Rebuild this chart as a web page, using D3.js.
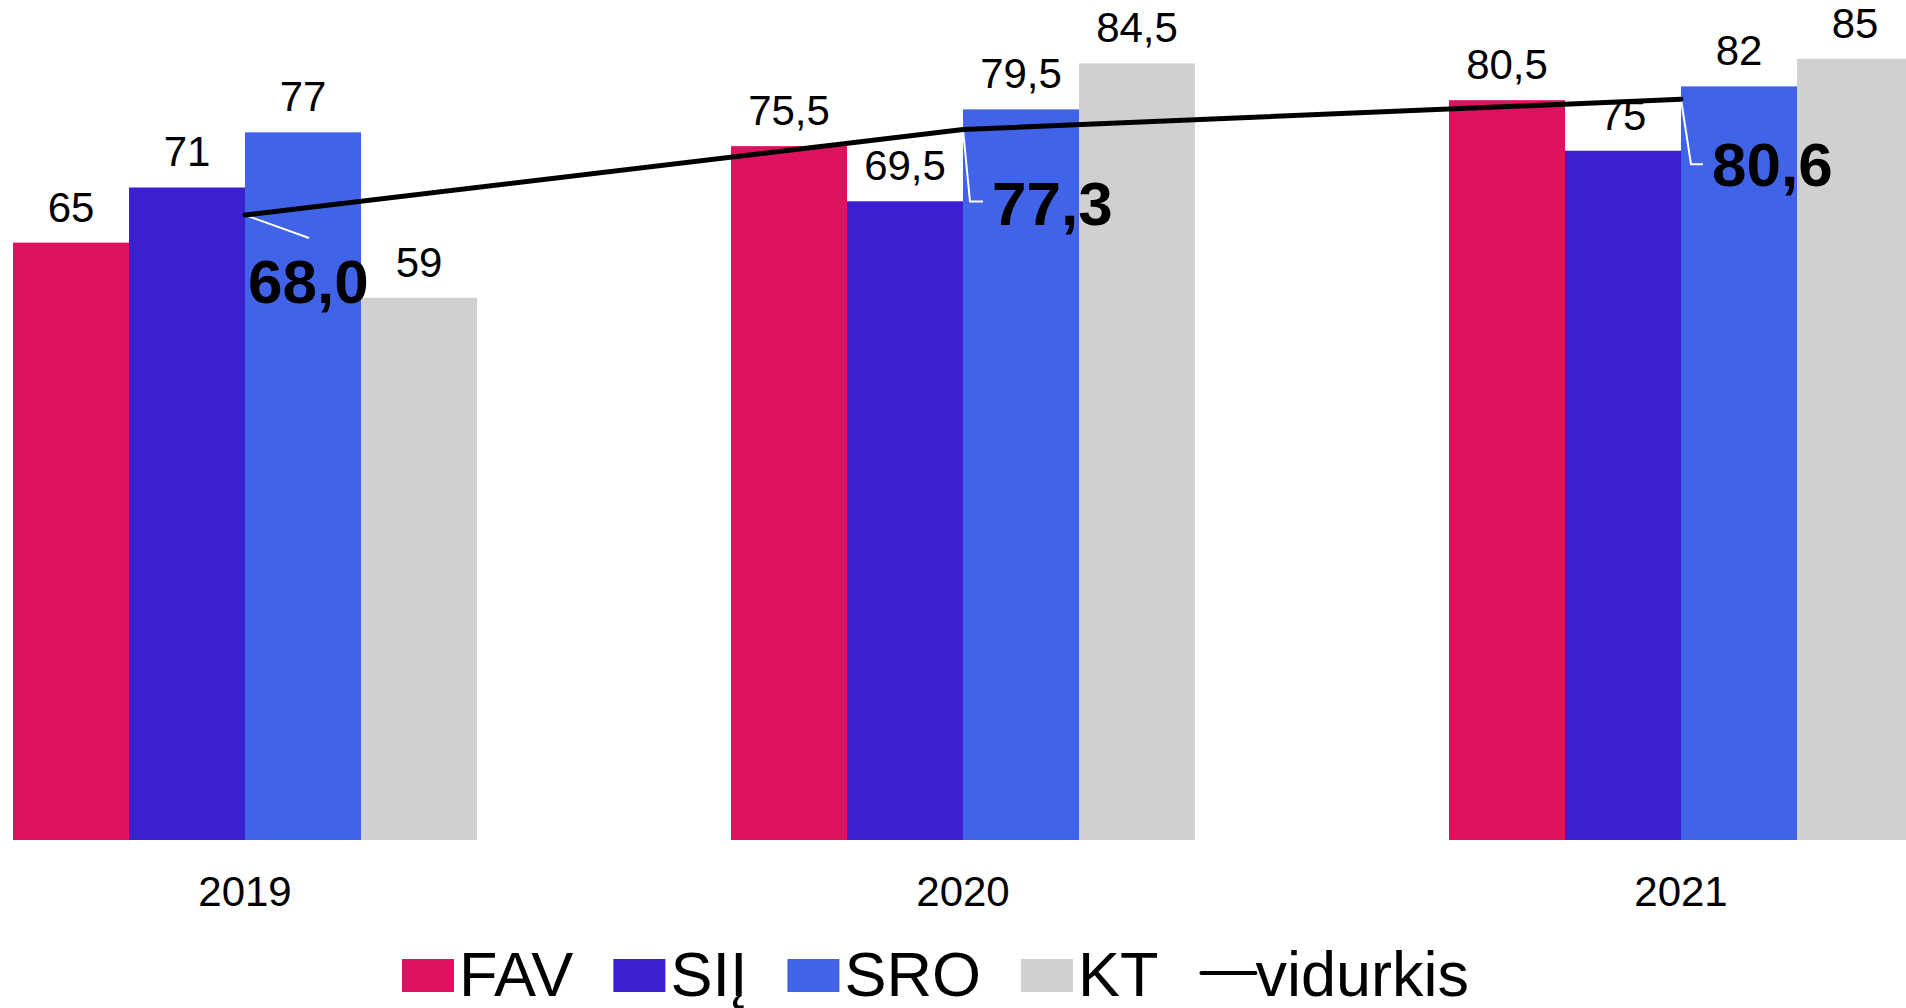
<!DOCTYPE html>
<html>
<head>
<meta charset="utf-8">
<script src="https://cdn.jsdelivr.net/npm/d3@7"></script>
<style>
  body { margin: 0; background: #fff; }
  svg { display: block; font-family: "Liberation Sans", Arial, sans-serif; }
</style>
</head>
<body>
<div id="chart"></div>
<script>
// Data
const years = ["2019", "2020", "2021"];
const seriesNames = ["FAV", "SIĮ", "SRO", "KT"];
const favValues = [65, 75.5, 80.5];
const sijValues = [71, 69.5, 75];
const sroValues = [77, 79.5, 82];
const ktValues = [59, 84.5, 85];
const averageValues = [68.0, 77.3, 80.6];
const averageName = "vidurkis";

const seriesColors = ["#de1260", "#3c1fcf", "#4163e8", "#d0d0d2"];

// annotation placement for the average labels (relative to the line point)
const avgLabelLayout = [
    { dx: 3, dy: 88, leader: [[64, 23]] },
    { dx: 29, dy: 95, leader: [[7, 72], [20, 72]] },
    { dx: 31, dy: 87, leader: [[10, 65], [22, 65]] }
];

const width = 1906;
const height = 1008;
const baseline = 840;
const barWidth = 116;

const fmt = v => String(v).replace(".", ",");
const fmtAvg = v => v.toFixed(1).replace(".", ",");

const rows = years.map((y, i) => ({
    year: y,
    values: [favValues[i], sijValues[i], sroValues[i], ktValues[i]],
    avg: averageValues[i]
}));

const svg = d3.select("#chart")
    .append("svg")
    .attr("width", width)
    .attr("height", height);

// Scales
const xScale = d3.scalePoint()
    .domain(years)
    .range([245, 1681]);
const xInner = d3.scaleBand()
    .domain(seriesNames)
    .range([-barWidth * 2, barWidth * 2]);
const yScale = d3.scaleLinear()
    .domain([0, 91.4])
    .range([baseline, 0]);

// Bars
const groups = svg.selectAll(".group")
    .data(rows)
    .join("g")
    .attr("class", "group")
    .attr("transform", d => `translate(${xScale(d.year)},0)`);

groups.selectAll("rect")
    .data(d => d.values.map((v, j) => ({ name: seriesNames[j], value: v, idx: j })))
    .join("rect")
    .attr("x", d => xInner(d.name))
    .attr("y", d => yScale(d.value))
    .attr("width", xInner.bandwidth())
    .attr("height", d => baseline - yScale(d.value))
    .attr("fill", d => seriesColors[d.idx]);

// Value labels
groups.selectAll(".val")
    .data(d => d.values.map((v, j) => ({ name: seriesNames[j], value: v })))
    .join("text")
    .attr("class", "val")
    .attr("x", d => xInner(d.name) + xInner.bandwidth() / 2)
    .attr("y", d => yScale(d.value) - 21)
    .attr("text-anchor", "middle")
    .style("font-size", "42px")
    .attr("fill", "#000")
    .text(d => fmt(d.value));

// Year axis labels
svg.selectAll(".year")
    .data(years)
    .join("text")
    .attr("class", "year")
    .attr("x", d => xScale(d))
    .attr("y", 906)
    .attr("text-anchor", "middle")
    .style("font-size", "42px")
    .text(d => d);

// Average leader lines (white)
rows.forEach((d, i) => {
    const px = xScale(d.year);
    const py = yScale(d.avg);
    const pts = [[px, py]].concat(avgLabelLayout[i].leader.map(p => [px + p[0], py + p[1]]));
    svg.append("path")
        .attr("d", d3.line()(pts))
        .attr("fill", "none")
        .attr("stroke", "#fff")
        .attr("stroke-width", 2);
});

// Average line
svg.append("path")
    .datum(rows)
    .attr("d", d3.line().x(d => xScale(d.year)).y(d => yScale(d.avg)))
    .attr("fill", "none")
    .attr("stroke", "#000")
    .attr("stroke-width", 5)
    .attr("stroke-linejoin", "round")
    .attr("stroke-linecap", "round");

// Average labels
svg.selectAll(".avg")
    .data(rows)
    .join("text")
    .attr("class", "avg")
    .attr("x", (d, i) => xScale(d.year) + avgLabelLayout[i].dx)
    .attr("y", (d, i) => yScale(d.avg) + avgLabelLayout[i].dy)
    .style("font-size", "62px")
    .style("font-weight", "bold")
    .text(d => fmtAvg(d.avg));

// Legend
const legend = svg.append("g").attr("class", "legend");
let lx = 402;
const legendItems = seriesNames.map((n, j) => ({ name: n, color: seriesColors[j], type: "rect" }))
    .concat([{ name: averageName, color: "#000", type: "line" }]);

legendItems.forEach(item => {
    if (item.type === "rect") {
        legend.append("rect")
            .attr("x", lx)
            .attr("y", 959)
            .attr("width", 52)
            .attr("height", 33)
            .attr("fill", item.color);
    } else {
        legend.append("line")
            .attr("x1", lx + 3)
            .attr("x2", lx + 57)
            .attr("y1", 973)
            .attr("y2", 973)
            .attr("stroke", item.color)
            .attr("stroke-width", 4)
            .attr("stroke-linecap", "round");
    }
    const t = legend.append("text")
        .attr("x", lx + 57)
        .attr("y", 996)
        .style("font-size", "63px")
        .text(item.name);
    lx += 57 + t.node().getComputedTextLength() + 40;
});
</script>
</body>
</html>
